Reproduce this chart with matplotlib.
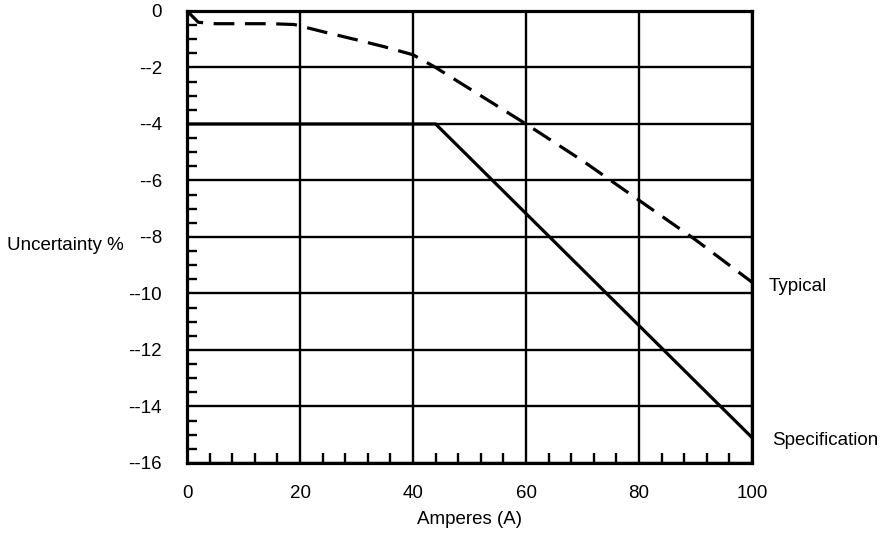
import matplotlib
matplotlib.use("Agg")
import matplotlib.pyplot as plt
from matplotlib.ticker import MultipleLocator

plt.rcParams['font.family'] = ['Liberation Sans', 'DejaVu Sans']

# typical curve (dashed)
typ_amps = [0, 2, 5, 10, 15, 19, 25, 30, 35, 40, 44, 50, 60, 70, 80, 90, 100]
typ_unc = [0, -0.4, -0.45, -0.45, -0.45, -0.48, -0.78, -1.02, -1.27, -1.55, -2.0,
           -2.75, -4.0, -5.3, -6.7, -8.1, -9.6]

# specification curve (solid)
spec_amps = [0, 44, 100]
spec_unc = [-4, -4, -15.1]

yticks = [0, -2, -4, -6, -8, -10, -12, -14, -16]
ytick_labels = ['0', '--2', '--4', '--6', '--8', '--10', '--12', '--14', '--16']
xticks = [0, 20, 40, 60, 80, 100]

fs = 13.5

fig = plt.figure(figsize=(8.89, 5.47), dpi=100)
ax = fig.add_axes([0.2104, 0.1536, 0.6355, 0.8263])

ax.plot(typ_amps, typ_unc, color='black', lw=2.3, linestyle=(0, (6.5, 3.3)),
        solid_capstyle='butt', zorder=3)
ax.plot(spec_amps, spec_unc, color='black', lw=2.3, zorder=3)

ax.set_xlim(0, 100)
ax.set_ylim(-16, 0)
ax.set_xticks(xticks)
ax.set_yticks(yticks)
ax.set_yticklabels(ytick_labels)
ax.xaxis.set_minor_locator(MultipleLocator(4))
ax.yaxis.set_minor_locator(MultipleLocator(0.5))

ax.tick_params(which='major', length=0, labelsize=fs)
ax.tick_params(axis='x', which='major', pad=16)
ax.tick_params(axis='y', which='major', pad=18)
ax.tick_params(which='minor', direction='in', length=7.5, width=1.7, color='black')
ax.grid(True, which='major', color='black', lw=1.7)

for s in ax.spines.values():
    s.set_linewidth(2.3)
    s.set_zorder(4)

ax.set_ylabel('Uncertainty %', rotation=0, fontsize=fs, ha='center', va='center')
ax.yaxis.set_label_coords(-0.216, 0.482)
ax.set_xlabel('Amperes (A)', fontsize=fs, va='center')
ax.xaxis.set_label_coords(0.5, -0.124)

ax.text(103.0, -9.77, 'Typical', fontsize=fs, va='center', ha='left', clip_on=False)
ax.text(103.5, -15.19, 'Specification', fontsize=fs, va='center', ha='left', clip_on=False)

fig.savefig('out.png', dpi=100)
